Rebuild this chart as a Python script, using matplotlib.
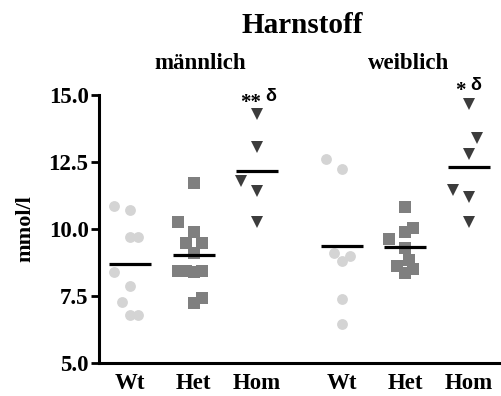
import numpy as np
import matplotlib
matplotlib.use('Agg')
import matplotlib.pyplot as plt

plt.rcParams['font.family'] = 'Liberation Serif'
plt.rcParams['font.weight'] = 'bold'

# data (mmol/l)
groups = ['Wt', 'Het', 'Hom', 'Wt', 'Het', 'Hom']
positions = [1, 2, 3, 4.33, 5.33, 6.33]

m_wt = [10.87, 10.72, 9.70, 9.70, 8.40, 7.88, 7.29, 6.79, 6.79]
m_het = [11.73, 10.25, 9.88, 9.49, 9.47, 9.12, 8.45, 8.45, 8.40, 8.45, 7.25, 7.44]
m_hom = [14.28, 13.07, 11.79, 11.42, 10.25]
w_wt = [12.60, 12.23, 9.09, 8.99, 8.82, 7.38, 6.44]
w_het = [10.81, 10.03, 9.90, 9.62, 9.28, 8.84, 8.62, 8.50, 8.35]
w_hom = [14.66, 13.38, 12.80, 11.46, 11.21, 10.27]

# horizontal scatter slots (in marker widths)
m_wt_slot = [-2, 0, 0, 1, -2, 0, -1, 0, 1]
m_het_slot = [0, -2, 0, -1, 1, 0, -2, -1, 0, 1, 0, 1]
m_hom_slot = [0, 0, -2, 0, 0]
w_wt_slot = [-2, 0, -1, 1, 0, 0, 0]
w_het_slot = [0, 1, 0, -2, 0, 0.5, -1, 1, 0]
w_hom_slot = [0, 1, 0, -2, 0, 0]

values = [m_wt, m_het, m_hom, w_wt, w_het, w_hom]
slots = [m_wt_slot, m_het_slot, m_hom_slot, w_wt_slot, w_het_slot, w_hom_slot]
styles = [('o', '#d4d4d4', 7.8), ('s', '#7f7f7f', 8.0), ('v', '#3c3c3c', 8.0)] * 2

fig = plt.figure(figsize=(5.02, 3.96), dpi=100)
ax = fig.add_axes([99/502, 33/396, 403/502, 268/396])

step = 0.126
for pos, vals, sl, (mk, col, ms) in zip(positions, values, slots, styles):
    x = pos + np.array(sl) * step
    ax.plot(x, vals, linestyle='none', marker=mk, color=col, markersize=ms,
            markeredgewidth=0, clip_on=False)
    ax.hlines(np.mean(vals), pos - 0.33, pos + 0.33, color='black', linewidth=2.3)

ax.set_xlim(0.513, 6.85)
ax.set_ylim(5, 15)
ax.set_yticks([5, 7.5, 10, 12.5, 15])
ax.set_yticklabels(['5.0', '7.5', '10.0', '12.5', '15.0'])
ax.set_xticks(positions)
ax.set_xticklabels(groups)
ax.tick_params(axis='y', length=6, width=2, pad=1.5, labelsize=16.5)
ax.tick_params(axis='x', length=0, pad=7.5, labelsize=16.5)
for s in ['top', 'right']:
    ax.spines[s].set_visible(False)
for s in ['left', 'bottom']:
    ax.spines[s].set_linewidth(2.2)

ax.text(-0.182, 0.5, 'mmol/l', transform=ax.transAxes, rotation=90,
        ha='center', va='center', fontsize=16)

fig.text(302/502, 1 - 33/396, 'Harnstoff', ha='center', va='baseline', fontsize=21)
fig.text(200/502, 1 - 69/396, 'männlich', ha='center', va='baseline', fontsize=16.5)
fig.text(409/502, 1 - 69/396, 'weiblich', ha='center', va='baseline', fontsize=16.5)

# significance marks
ax.text(positions[2] - 0.105, 14.72, '**', ha='center', va='center', fontsize=15, clip_on=False)
ax.text(positions[2] + 0.21, 14.94, 'δ', ha='center', va='center', fontsize=13,
        family=['Liberation Sans'], clip_on=False)
ax.text(positions[5] - 0.14, 15.15, '*', ha='center', va='center', fontsize=15, clip_on=False)
ax.text(positions[5] + 0.11, 15.34, 'δ', ha='center', va='center', fontsize=13,
        family=['Liberation Sans'], clip_on=False)

fig.savefig('out.png', dpi=100)
